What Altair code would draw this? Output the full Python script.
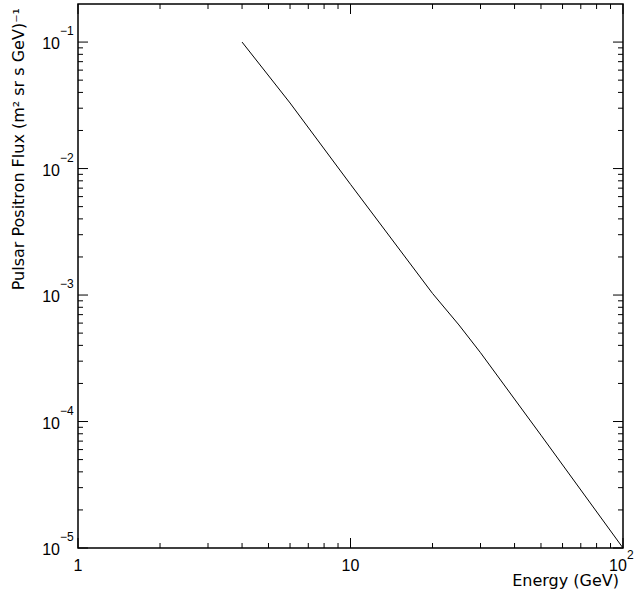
import altair as alt
import pandas as pd

# Data
energy = [4, 6, 10, 20, 25, 30, 50, 100]
flux = [0.1, 0.033, 7.5e-3, 1.03e-3, 5.8e-4, 3.5e-4, 7.8e-5, 1e-5]

x_major = [1, 10, 100]
x_minor = [2, 3, 4, 5, 6, 7, 8, 9, 20, 30, 40, 50, 60, 70, 80, 90]
y_major = [1e-5, 1e-4, 1e-3, 1e-2, 1e-1]
y_minor = [m * 10.0 ** k for k in range(-5, -1) for m in range(2, 10)]

x_label_vals = [1, 10]
x_label_text = ["1", "10"]
y_label_sup = ["\u22125", "\u22124", "\u22123", "\u22122", "\u22121"]

x_title = "Energy (GeV)"
y_title = "Pulsar Positron Flux (m\u00b2 sr s GeV)\u207b\u00b9"

W, H = 545, 544
FONT = "Liberation Sans"
TFONT = "DejaVu Sans"

xs = alt.Scale(type="log", domain=[1, 100], nice=False)
ys = alt.Scale(type="log", domain=[1e-5, 0.2], nice=False)

line_df = pd.DataFrame({"E": energy, "F": flux})
xmaj_df = pd.DataFrame({"v": x_major})
xmin_df = pd.DataFrame({"v": x_minor})
ymaj_df = pd.DataFrame({"v": y_major})
ymin_df = pd.DataFrame({"v": y_minor})
xlab_df = pd.DataFrame({"v": x_label_vals, "t": x_label_text})
ylab_df = pd.DataFrame({"v": y_major, "base": ["10"] * 5, "sup": y_label_sup})
x100_df = pd.DataFrame({"v": [100], "base": ["10"], "sup": ["2"]})
title_df = pd.DataFrame({"xt": [x_title], "yt": [y_title]})

X = lambda: alt.X("v:Q", scale=xs, axis=None)
Y = lambda: alt.Y("v:Q", scale=ys, axis=None)

line = alt.Chart(line_df).mark_line(color="black", strokeWidth=1).encode(
    x=alt.X("E:Q", scale=xs, axis=None),
    y=alt.Y("F:Q", scale=ys, axis=None),
)

def xticks(df, L):
    b = alt.Chart(df).mark_rule(color="black", strokeWidth=1).encode(
        x=X(), y=alt.value(H), y2=alt.value(H - L))
    t = alt.Chart(df).mark_rule(color="black", strokeWidth=1).encode(
        x=X(), y=alt.value(0), y2=alt.value(L))
    return b + t

def yticks(df, L):
    l = alt.Chart(df).mark_rule(color="black", strokeWidth=1).encode(
        y=Y(), x=alt.value(0), x2=alt.value(L))
    r = alt.Chart(df).mark_rule(color="black", strokeWidth=1).encode(
        y=Y(), x=alt.value(W), x2=alt.value(W - L))
    return l + r

xlab = alt.Chart(xlab_df).mark_text(
    font=FONT, fontSize=16, align="center", baseline="middle", color="black"
).encode(x=X(), y=alt.value(H + 18), text="t:N")

x100_base = alt.Chart(x100_df).mark_text(
    font=FONT, fontSize=16, align="center", baseline="middle", color="black", dx=-5
).encode(x=X(), y=alt.value(H + 18), text="base:N")
x100_sup = alt.Chart(x100_df).mark_text(
    font=FONT, fontSize=12, align="left", baseline="middle", color="black", dx=4
).encode(x=X(), y=alt.value(H + 7), text="sup:N")

ylab_base = alt.Chart(ylab_df).mark_text(
    font=FONT, fontSize=16, align="right", baseline="middle", color="black", dy=2
).encode(y=Y(), x=alt.value(-18), text="base:N")
ylab_sup = alt.Chart(ylab_df).mark_text(
    font=FONT, fontSize=12, align="left", baseline="middle", color="black", dy=-11
).encode(y=Y(), x=alt.value(-18), text="sup:N")

xt = alt.Chart(title_df).mark_text(
    font=TFONT, fontSize=16, align="right", baseline="middle", color="black"
).encode(x=alt.value(W - 4), y=alt.value(H + 33), text="xt:N")
yt = alt.Chart(title_df).mark_text(
    font=TFONT, fontSize=16, align="right", baseline="middle", color="black", angle=270
).encode(x=alt.value(-59), y=alt.value(4), text="yt:N")

chart = alt.layer(
    line,
    xticks(xmaj_df, 10), xticks(xmin_df, 5),
    yticks(ymaj_df, 10), yticks(ymin_df, 5),
    xlab, x100_base, x100_sup, ylab_base, ylab_sup, xt, yt,
).properties(
    width=W, height=H,
    autosize=alt.AutoSizeParams(type="none"),
    padding={"left": 78, "top": 4, "right": 13, "bottom": 46},
    background="white",
).configure_view(stroke="black", strokeWidth=1.5)

chart.save("out.html", embed_options={"renderer": "svg", "actions": False})
